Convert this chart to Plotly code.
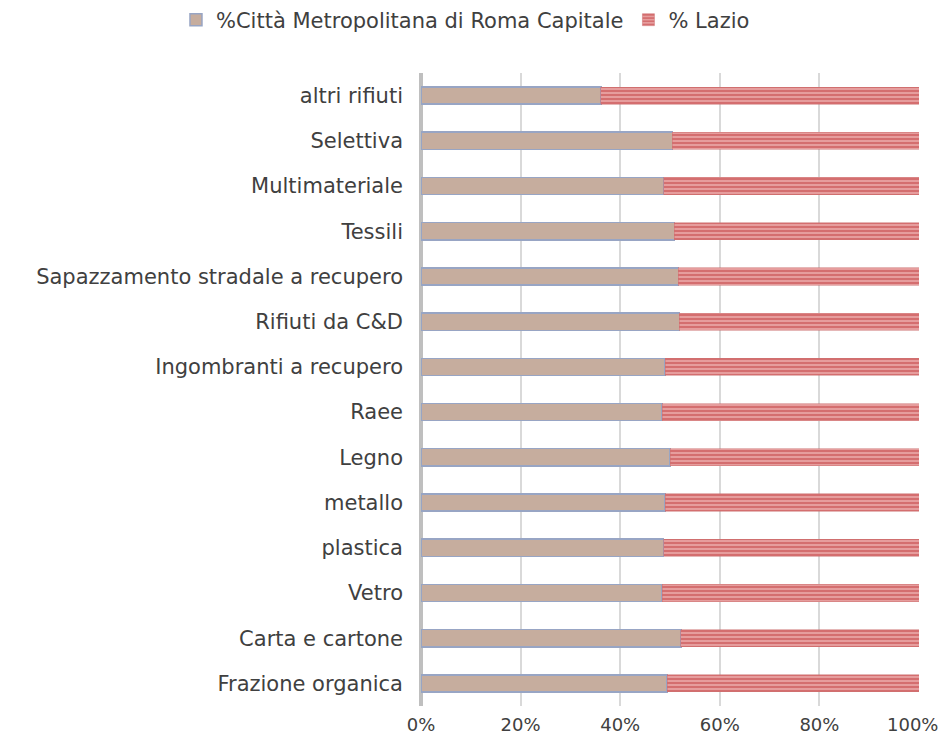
import plotly.graph_objects as go

categories = ["Frazione organica", "Carta e cartone", "Vetro", "plastica", "metallo",
              "Legno", "Raee", "Ingombranti a recupero", "Rifiuti da C&D",
              "Sapazzamento stradale a recupero", "Tessili", "Multimateriale",
              "Selettiva", "altri rifiuti"]
roma = [49.4, 52.2, 48.4, 48.7, 49.0, 50.0, 48.4, 49.0, 51.9, 51.7, 50.9, 48.7, 50.5, 36.1]
lazio = [round(100 - v, 1) for v in roma]
tick_vals = [0, 20, 40, 60, 80, 100]
tick_text = ["0%", "20%", "40%", "60%", "80%", "100%"]

FONT = "DejaVu Sans"
fig = go.Figure()
fig.add_trace(go.Bar(
    y=categories, x=roma, orientation="h", name="%Città Metropolitana di Roma Capitale",
    marker=dict(color="#c6ad9e", line=dict(color="#98a5c4", width=1.5)),
))
fig.add_trace(go.Bar(
    y=categories, x=lazio, orientation="h", name="% Lazio",
    marker=dict(color="#e39a9a", line=dict(color="#cc6f70", width=0.5),
                pattern=dict(shape="-", fgcolor="#c0393b", bgcolor="#e8a2a2",
                             size=4, solidity=0.55)),
))
# last tick label drawn as annotation so it stays inside the figure
shown_text = tick_text[:-1] + [""]
fig.add_annotation(x=tick_vals[-1], xref="x", y=0, yref="paper", yanchor="top",
                   xanchor="right", xshift=21, yshift=-6, showarrow=False,
                   text=tick_text[-1], font=dict(family=FONT, size=18, color="#404040"))
fig.update_layout(
    barmode="stack", bargap=0.62,
    width=932, height=731,
    margin=dict(l=413, r=21, t=65, b=33, autoexpand=False),
    paper_bgcolor="white", plot_bgcolor="white",
    font=dict(family=FONT, size=20, color="#404040"),
    legend=dict(orientation="h", x=-0.492, xanchor="left",
                y=1.0837, yanchor="middle",
                font=dict(size=21, color="#404040"),
                traceorder="normal"),
    xaxis=dict(range=[0, 100], tickvals=tick_vals, ticktext=shown_text,
               showgrid=True, gridcolor="#d9d9d9", gridwidth=2,
               zeroline=True, zerolinecolor="#bfbfbf", zerolinewidth=4,
               showline=False, ticks="", ticklabelstandoff=6, automargin=False,
               tickfont=dict(size=18, color="#404040")),
    yaxis=dict(categoryorder="array", categoryarray=categories,
               showgrid=False, showline=False, automargin=False,
               ticks="", ticklabelstandoff=17,
               tickfont=dict(size=21, color="#404040")),
)
fig.write_html("out.html")
